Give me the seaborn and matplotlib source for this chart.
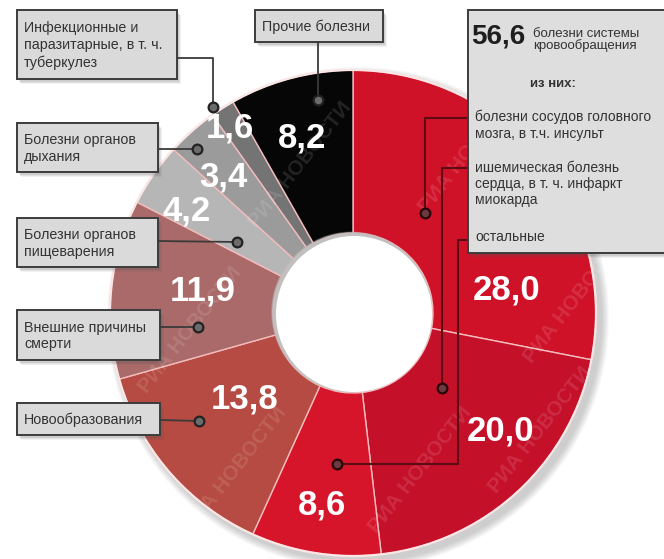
import matplotlib
matplotlib.use("Agg")
import matplotlib.pyplot as plt
import seaborn as sns
from matplotlib.patches import Circle, Rectangle

# Structure of mortality, % of all deaths
segments = ["сосуды головного мозга", "ишемическая болезнь сердца", "остальные БСК",
            "Новообразования", "Внешние причины смерти", "Болезни органов пищеварения",
            "Болезни органов дыхания", "Инфекционные и паразитарные", "Прочие болезни"]
values = [28.0, 20.0, 8.6, 13.8, 11.9, 4.2, 3.4, 1.6, 8.2]
circulatory_total = 56.6
colors = ["#d01229", "#c5102a", "#d6152b", "#b54b42", "#a96a69",
          "#b6b6b6", "#9b9b9b", "#747474", "#060606"]

box_texts = ["Инфекционные и\nпаразитарные, в т. ч.\nтуберкулез",
             "Прочие болезни",
             "Болезни органов\nдыхания",
             "Болезни органов\nпищеварения",
             "Внешние причины\nсмерти",
             "Новообразования"]
legend_items = ["болезни сосудов головного\nмозга, в т.ч. инсульт",
                "ишемическая болезнь\nсердца, в т. ч. инфаркт\nмиокарда",
                "остальные"]

sns.set_theme(style="white")
plt.rcParams["font.family"] = ["Liberation Sans", "DejaVu Sans"]

W, H = 664, 559
fig = plt.figure(figsize=(W / 100, H / 100), dpi=100)
ax = fig.add_axes([0, 0, 1, 1])

CX, CY, R, RIN = 353, 313, 243, 80

# soft drop shadow under the ring
for k in range(8):
    ax.add_patch(Circle((CX + 5, CY + 5), R + 8 - k, fc="#7a7a7a", ec="none",
                        alpha=0.05, zorder=0))

ax.pie(values, colors=colors, startangle=270, counterclock=True,
       center=(CX, CY), radius=R,
       wedgeprops=dict(width=R - RIN, edgecolor="#f2bcbc", linewidth=1.0))
ax.set_xlim(0, W)
ax.set_ylim(H, 0)
ax.set_axis_off()

# rim and hole
ax.add_patch(Circle((CX, CY), R, fill=False, ec="#fbe6e6", lw=1.6, zorder=3))
for k in range(5):
    ax.add_patch(Circle((CX - 1.5, CY - 1), RIN + 0.5 - k * 0.3, fc="#bdbdbd",
                        ec="none", alpha=0.22, zorder=3))
ax.add_patch(Circle((CX + 1, CY + 1), RIN - 2, fc="white", ec="none", zorder=3))

# faint agency watermark
for (wx, wy) in [(300, 165), (470, 150), (575, 300), (235, 470), (420, 470),
                 (540, 430), (190, 330)]:
    ax.text(wx, wy, "РИА НОВОСТИ", rotation=52, color="white", alpha=0.12,
            fontsize=15, fontweight="bold", ha="center", va="center", zorder=2)

# value labels
label_pos = [(507, 290), (501, 431), (322, 505), (245, 399), (203, 291),
             (187, 211), (223, 177), (230, 128), (302, 138)]
for v, (lx, ly) in zip(values, label_pos):
    ax.text(lx, ly, f"{v:.1f}".replace(".", ","), color="white", fontsize=25,
            fontweight="bold", ha="center", va="center", zorder=5)


def shadowed_box(x0, y0, x1, y1, fc="#dadada"):
    for k, a in ((5, 0.08), (4, 0.1), (3, 0.14)):
        ax.add_patch(Rectangle((x0 + k - 1, y0 + k), x1 - x0, y1 - y0,
                               fc="#555555", ec="none", alpha=a, zorder=6))
    ax.add_patch(Rectangle((x0, y0), x1 - x0, y1 - y0, fc=fc, ec="#3c3c3c",
                           lw=1.4, zorder=7))


def dot(x, y):
    ax.plot([x], [y], marker="o", ms=7, mfc="#6b6b6b", mec="#222222", mew=1.6,
            zorder=9)


# category boxes with leaders
boxes = [(17, 10, 177, 79), (255, 10, 383, 42), (17, 123, 158, 172),
         (17, 218, 158, 267), (17, 310, 160, 360), (17, 403, 160, 435)]
leaders = [[(177, 58), (213, 58), (213, 107)],
           [(318, 42), (318, 100)],
           [(158, 149), (197, 149)],
           [(158, 241), (237, 242)],
           [(160, 327), (198, 327)],
           [(160, 420), (199, 421)]]
for (x0, y0, x1, y1), txt, path in zip(boxes, box_texts, leaders):
    shadowed_box(x0, y0, x1, y1)
    ax.text(x0 + 7, (y0 + y1) / 2 + 1, txt, fontsize=10.3, color="#333333",
            ha="left", va="center", linespacing=1.25, zorder=8)
    xs, ys = zip(*path)
    ax.plot(xs, ys, color="#3a3a3a", lw=1.3, zorder=8)
    dot(*path[-1])

# circulatory system breakdown panel
shadowed_box(468, 10, 720, 253, fc="#dedede")
ax.text(471, 37, f"{circulatory_total:.1f}".replace(".", ","), fontsize=20,
        fontweight="bold", color="#1e1e1e", ha="left", va="center", zorder=8)
ax.text(533, 40, "болезни системы\nкровообращения", fontsize=9.5,
        color="#333333", ha="left", va="center", linespacing=1.0, zorder=8)
ax.text(553, 84, "из них:", fontsize=9.5, fontweight="bold", color="#333333",
        ha="center", va="center", zorder=8)
item_top = [110, 161, 230]
for txt, ty in zip(legend_items, item_top):
    ax.text(475, ty, txt, fontsize=10, color="#333333", ha="left", va="top",
            linespacing=1.2, zorder=8)

legend_leaders = [[(468, 118), (425, 118), (425, 213)],
                  [(468, 168), (442, 168), (442, 388)],
                  [(468, 240), (458, 240), (458, 464), (337, 464)]]
for path in legend_leaders:
    xs, ys = zip(*path)
    ax.plot(xs, ys, color="#5c0b12", lw=1.5, zorder=4)
    ax.plot([path[-1][0]], [path[-1][1]], marker="o", ms=7, mfc="#6b3a3e",
            mec="#2a0508", mew=1.6, zorder=4)

fig.savefig("out.png", dpi=100)
